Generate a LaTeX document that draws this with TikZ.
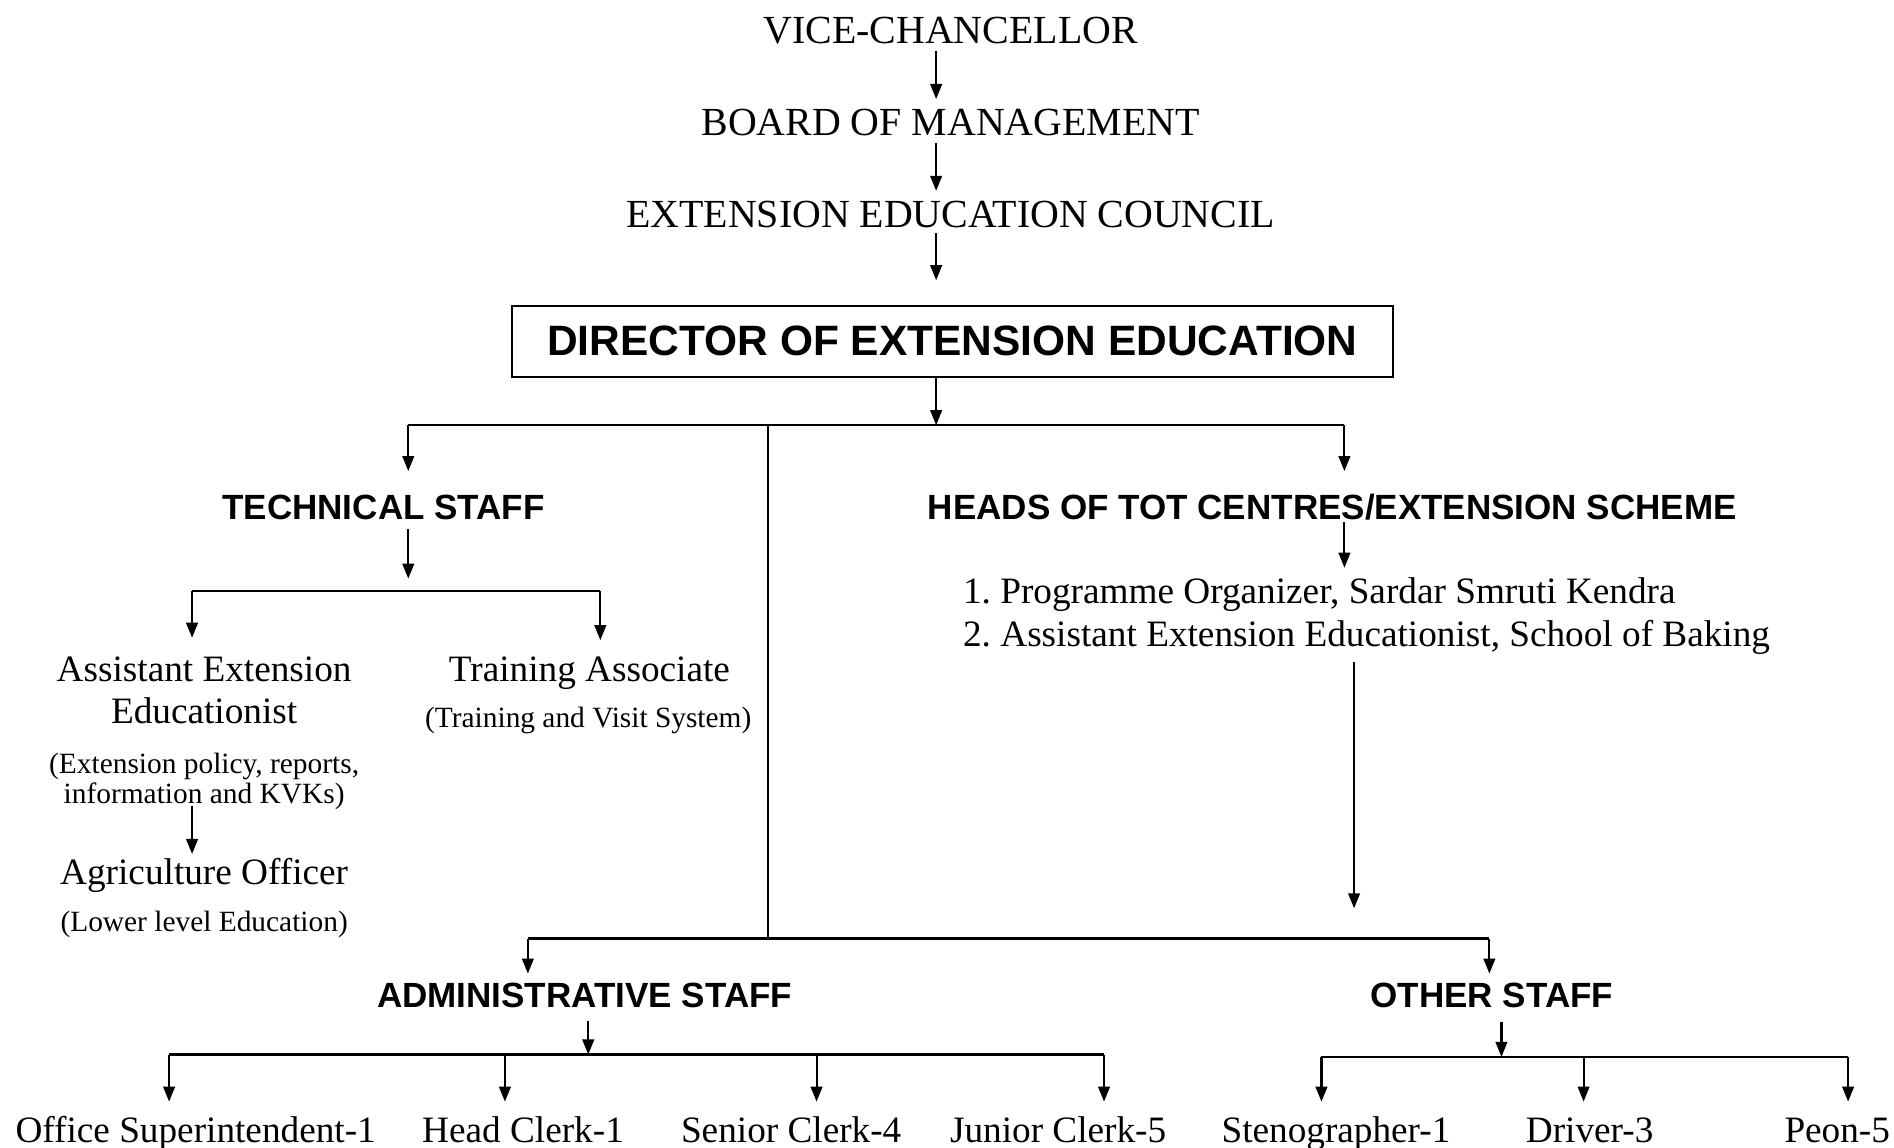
\documentclass[tikz,border=0pt]{standalone}
\usepackage{fontspec}
\setmainfont{Liberation Serif}
\newfontfamily\hdfont{Liberation Sans}
\usetikzlibrary{arrows.meta}
\frenchspacing
\begin{document}
\begin{tikzpicture}[x=0.6pt,y=-0.6pt,
 ttl/.style={font=\fontsize{19.8}{22}\selectfont, inner sep=0pt, anchor=base},
 body/.style={font=\fontsize{18.5}{21}\selectfont, inner sep=0pt, anchor=base},
 small/.style={font=\fontsize{14.6}{17}\selectfont, inner sep=0pt, anchor=base},
 head/.style={font=\hdfont\bfseries\fontsize{17.4}{20}\selectfont, inner sep=0pt, anchor=base},
 dirbox/.style={draw, line width=1.1pt, minimum width=437.4pt, minimum height=35.4pt, inner sep=0pt, font=\hdfont\bfseries\fontsize{21.1}{24}\selectfont},
 arr/.style={line width=1.05pt, -{Triangle[length=7.5pt,width=5.8pt]}},
 ln/.style={line width=1.05pt},
 bus/.style={line width=1.35pt}]
\useasboundingbox (0,0) rectangle (1568,950);

% ---------- text nodes ----------
\node[ttl] (vc)  at (787,36)  {VICE-CHANCELLOR};
\node[ttl] (bom) at (787,112) {BOARD OF MANAGEMENT};
\node[ttl] (eec) at (787,188) {EXTENSION EDUCATION COUNCIL};
\node[dirbox] (dee) at (788.5,282.5) {DIRECTOR OF EXTENSION EDUCATION};

\node[head] (ts) at (317.5,430) {TECHNICAL STAFF};
\node[head] (hts) at (1103,430) {HEADS OF TOT CENTRES/EXTENSION SCHEME};

\node[body] (aee1) at (169,564) {Assistant Extension};
\node[body] (aee2) at (169,599) {Educationist};
\node[small] (aee3) at (169,640) {(Extension policy, reports,};
\node[small] (aee4) at (169,665) {information and KVKs)};
\node[body] (ao1) at (169,732) {Agriculture Officer};
\node[small] (ao2) at (169,771) {(Lower level Education)};

\node[body] (ta1) at (488,564) {Training Associate};
\node[small] (ta2) at (487,602) {(Training and Visit System)};

\node[body,anchor=base west] (l1) at (797,500) {1. Programme Organizer, Sardar Smruti Kendra};
\node[body,anchor=base west] (l2) at (797,535) {2. Assistant Extension Educationist, School of Baking};

\node[head] (adm) at (484,834) {ADMINISTRATIVE STAFF};
\node[head] (oth) at (1235,834) {OTHER STAFF};

\node[body] (os)  at (162,946) {Office Superintendent-1};
\node[body] (hc)  at (433,946) {Head Clerk-1};
\node[body] (sc)  at (655,946) {Senior Clerk-4};
\node[body] (jc)  at (876,946) {Junior Clerk-5};
\node[body] (st)  at (1106,946) {Stenographer-1};
\node[body] (dr)  at (1316,946) {Driver-3};
\node[body] (pe)  at (1521,946) {Peon-5};

% ---------- coordinates ----------
\coordinate (s1a) at (775,42);  \coordinate (s1b) at (775,82);
\coordinate (s2a) at (775,118); \coordinate (s2b) at (775,158);
\coordinate (s3a) at (775,193); \coordinate (s3b) at (775,232);
\coordinate (j0) at (775,352);
\coordinate (jL) at (338,352); \coordinate (jM) at (636,352); \coordinate (jR) at (1113,352);
\coordinate (tL) at (338,390); \coordinate (tR) at (1113,390);
\coordinate (tsA) at (338,438); \coordinate (tsB) at (338,479);
\coordinate (tbL) at (159,489); \coordinate (tbR) at (497,489);
\coordinate (aeeT) at (159,528); \coordinate (taT) at (497,530);
\coordinate (aoA) at (159,667); \coordinate (aoB) at (159,707);
\coordinate (hA) at (1113,432); \coordinate (hB) at (1113,470);
\coordinate (lA) at (1121,548); \coordinate (lB) at (1121,752);
\coordinate (mB) at (636,777);
\coordinate (bL) at (437,777); \coordinate (bR) at (1233,777);
\coordinate (admT) at (437,806); \coordinate (othT) at (1233,806);
\coordinate (admA) at (487,845); \coordinate (admB) at (487,873);
\coordinate (abL) at (140,873); \coordinate (abR) at (914,873);
\coordinate (ab2) at (418,873); \coordinate (ab3) at (676,873);
\coordinate (othA) at (1243,846); \coordinate (othB) at (1243,875);
\coordinate (obL) at (1094,875); \coordinate (obM) at (1311,875); \coordinate (obR) at (1530,875);
\coordinate (lowY) at (0,912);

% ---------- connectors ----------
\draw[arr] (s1a) -- (s1b);
\draw[arr] (s2a) -- (s2b);
\draw[arr] (s3a) -- (s3b);
\draw[arr] (dee.south -| j0) -- (j0);
\draw[ln] (jL) -- (jR);
\draw[arr] (jL) -- (tL);
\draw[arr] (jR) -- (tR);
\draw[ln] (jM) -- (mB);
\draw[arr] (tsA) -- (tsB);
\draw[ln] (tbL) -- (tbR);
\draw[arr] (tbL) -- (aeeT);
\draw[arr] (tbR) -- (taT);
\draw[arr] (aoA) -- (aoB);
\draw[arr] (hA) -- (hB);
\draw[arr] (lA) -- (lB);
\draw[bus] (bL) -- (bR);
\draw[arr] (bL) -- (admT);
\draw[arr] (bR) -- (othT);
\draw[arr] (admA) -- (admB);
\draw[bus] (abL) -- (abR);
\draw[arr] (abL) -- (abL |- lowY);
\draw[arr] (ab2) -- (ab2 |- lowY);
\draw[arr] (ab3) -- (ab3 |- lowY);
\draw[arr] (abR) -- (abR |- lowY);
\draw[arr] (othA) -- (othB);
\draw[bus] (obL) -- (obR);
\draw[arr] (obL) -- (obL |- lowY);
\draw[arr] (obM) -- (obM |- lowY);
\draw[arr] (obR) -- (obR |- lowY);
\end{tikzpicture}
\end{document}
